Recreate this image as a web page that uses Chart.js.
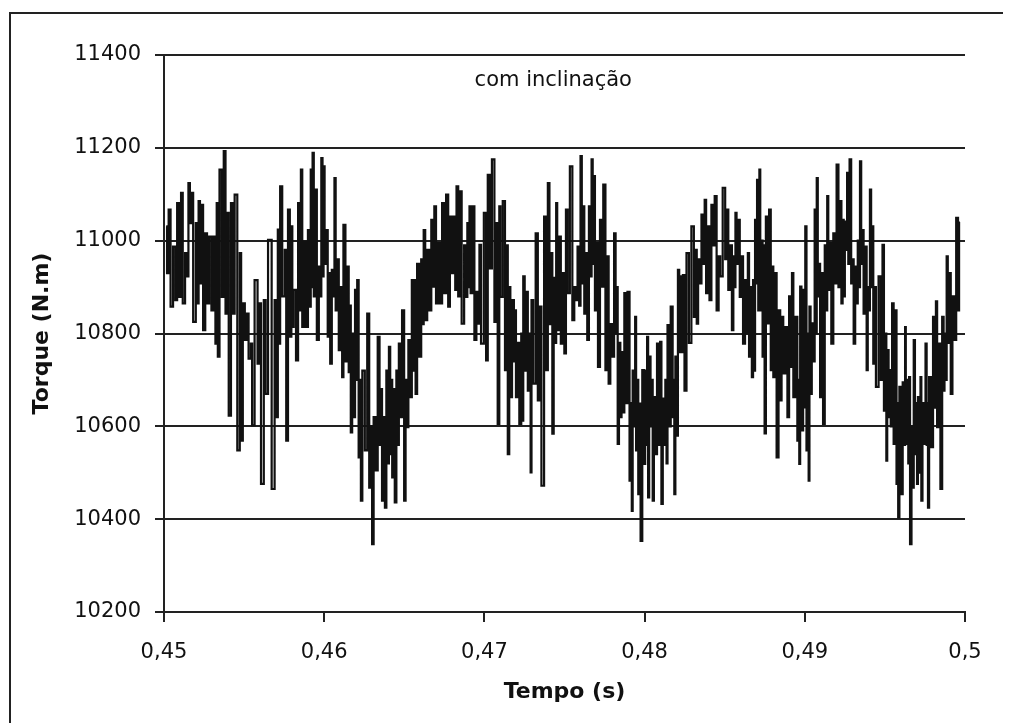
<!DOCTYPE html>
<html>
<head>
<meta charset="utf-8">
<script src="https://cdn.jsdelivr.net/npm/chart.js@4/dist/chart.umd.min.js"></script>
<style>
  html, body { margin: 0; padding: 0; background: #fff; }
  #torqueChart { display: block; }
</style>
</head>
<body>
<canvas id="torqueChart" width="1014" height="723"></canvas>
<script>
// tempo (s) e torque (N.m), picos e vales em ordem
const tempo = [
  0.45014, 0.45024, 0.45034, 0.45048, 0.45065, 0.45076, 0.45088, 0.45102, 0.45111, 0.45123,
  0.45140, 0.45148, 0.45157, 0.45166, 0.45173, 0.45191, 0.45206, 0.45212, 0.45220, 0.45229,
  0.45235, 0.45253, 0.45262, 0.45275, 0.45289, 0.45303, 0.45316, 0.45326, 0.45332, 0.45340,
  0.45353, 0.45368, 0.45378, 0.45390, 0.45399, 0.45409, 0.45427, 0.45436, 0.45446, 0.45469,
  0.45477, 0.45486, 0.45498, 0.45511, 0.45519, 0.45537, 0.45548, 0.45552, 0.45579, 0.45589,
  0.45595, 0.45616, 0.45630, 0.45639, 0.45660, 0.45684, 0.45697, 0.45705, 0.45716, 0.45722,
  0.45728, 0.45748, 0.45759, 0.45767, 0.45781, 0.45790, 0.45800,
  0.45802, 0.45817, 0.45831, 0.45843, 0.45851, 0.45858, 0.45868, 0.45879, 0.45893, 0.45904,
  0.45912, 0.45920, 0.45925, 0.45930, 0.45940, 0.45947, 0.45961, 0.45972, 0.45978, 0.45986,
  0.45993, 0.45999, 0.46006, 0.46014, 0.46030, 0.46035, 0.46040, 0.46055, 0.46061, 0.46067,
  0.46076, 0.46086, 0.46096, 0.46107, 0.46117, 0.46123, 0.46142, 0.46148, 0.46158, 0.46163,
  0.46169, 0.46180, 0.46189, 0.46196, 0.46202, 0.46210, 0.46220, 0.46227, 0.46231, 0.46245,
  0.46262, 0.46275, 0.46287, 0.46295, 0.46303, 0.46314, 0.46328, 0.46340, 0.46351, 0.46357,
  0.46365, 0.46376, 0.46382, 0.46394, 0.46401, 0.46407, 0.46417, 0.46422, 0.46427, 0.46437,
  0.46444, 0.46457, 0.46463, 0.46469, 0.46478, 0.46494, 0.46504, 0.46512, 0.46520, 0.46531,
  0.46542, 0.46552, 0.46562, 0.46568, 0.46573, 0.46587, 0.46599, 0.46612, 0.46618, 0.46624,
  0.46637, 0.46649, 0.46661, 0.46676, 0.46682, 0.46693, 0.46703, 0.46717, 0.46728, 0.46744,
  0.46753, 0.46769, 0.46779, 0.46790, 0.46800, 0.46815, 0.46821, 0.46831, 0.46842, 0.46848,
  0.46868, 0.46879, 0.46889, 0.46898, 0.46904, 0.46910, 0.46918, 0.46930, 0.46945, 0.46955,
  0.46966, 0.46972, 0.46986, 0.47007, 0.47014, 0.47028, 0.47039, 0.47055, 0.47070, 0.47076,
  0.47090, 0.47096, 0.47104, 0.47125, 0.47132, 0.47140, 0.47152, 0.47158, 0.47166, 0.47179,
  0.47189, 0.47194, 0.47200, 0.47211, 0.47225, 0.47235, 0.47240, 0.47245, 0.47258, 0.47266,
  0.47276, 0.47286, 0.47291, 0.47297, 0.47312, 0.47328, 0.47339, 0.47349, 0.47363, 0.47382,
  0.47390, 0.47402, 0.47410, 0.47421, 0.47427, 0.47438, 0.47444, 0.47452, 0.47457, 0.47473,
  0.47481, 0.47494, 0.47504, 0.47514, 0.47525, 0.47542, 0.47556, 0.47566, 0.47576, 0.47587,
  0.47596, 0.47604, 0.47612, 0.47618, 0.47629, 0.47639, 0.47645, 0.47660, 0.47666, 0.47672,
  0.47680, 0.47686, 0.47694, 0.47707, 0.47711, 0.47732, 0.47736, 0.47748, 0.47763, 0.47773,
  0.47778, 0.47794, 0.47804, 0.47815, 0.47823, 0.47829, 0.47835, 0.47845, 0.47852, 0.47860,
  0.47870, 0.47877, 0.47888, 0.47898, 0.47914, 0.47918, 0.47922, 0.47929, 0.47937, 0.47945,
  0.47949, 0.47957, 0.47964, 0.47970, 0.47980, 0.47991, 0.48001, 0.48006, 0.48012, 0.48019,
  0.48025, 0.48032, 0.48042, 0.48048, 0.48053, 0.48063, 0.48071, 0.48084, 0.48093, 0.48101,
  0.48109, 0.48118, 0.48125, 0.48134, 0.48140, 0.48146, 0.48155, 0.48171, 0.48179, 0.48183,
  0.48188, 0.48196, 0.48204, 0.48212, 0.48220, 0.48229, 0.48233, 0.48245, 0.48253, 0.48270,
  0.48283, 0.48301, 0.48314, 0.48322,
  0.48329, 0.48339, 0.48347, 0.48363, 0.48370, 0.48380, 0.48388, 0.48401, 0.48409, 0.48425,
  0.48433, 0.48442, 0.48457, 0.48467, 0.48477, 0.48498, 0.48508, 0.48514, 0.48531, 0.48540,
  0.48550, 0.48558, 0.48564, 0.48570, 0.48578, 0.48587, 0.48601, 0.48607, 0.48622, 0.48632,
  0.48640, 0.48649, 0.48655, 0.48665, 0.48674, 0.48680, 0.48686, 0.48693, 0.48699, 0.48705,
  0.48714, 0.48719, 0.48725, 0.48733, 0.48740, 0.48745, 0.48753, 0.48761, 0.48773, 0.48781,
  0.48794, 0.48798, 0.48809, 0.48819, 0.48829, 0.48843, 0.48850, 0.48860, 0.48871, 0.48885,
  0.48898, 0.48906, 0.48918, 0.48922, 0.48935, 0.48947, 0.48960, 0.48963, 0.48968, 0.48974,
  0.48984, 0.48995, 0.49001, 0.49005, 0.49016, 0.49022, 0.49026, 0.49032, 0.49040, 0.49047,
  0.49056, 0.49067, 0.49071, 0.49078, 0.49084, 0.49093, 0.49098, 0.49109, 0.49119, 0.49130,
  0.49137, 0.49143, 0.49150,
  0.49160, 0.49171, 0.49185, 0.49191, 0.49206, 0.49214, 0.49224, 0.49233, 0.49239, 0.49247,
  0.49253, 0.49260, 0.49268, 0.49275, 0.49284, 0.49295, 0.49301, 0.49309, 0.49320, 0.49326,
  0.49335, 0.49342, 0.49347, 0.49357, 0.49363, 0.49371, 0.49384, 0.49388, 0.49398, 0.49404,
  0.49409, 0.49419, 0.49425, 0.49430, 0.49438, 0.49450, 0.49471, 0.49478, 0.49492, 0.49496,
  0.49506, 0.49512, 0.49517, 0.49529, 0.49533, 0.49540, 0.49550, 0.49559, 0.49570, 0.49575,
  0.49581, 0.49585, 0.49596, 0.49606, 0.49616, 0.49623, 0.49629, 0.49632, 0.49643, 0.49649,
  0.49653, 0.49661, 0.49671, 0.49678, 0.49682, 0.49693, 0.49698, 0.49703, 0.49709, 0.49719,
  0.49725, 0.49730, 0.49739, 0.49750, 0.49757, 0.49764, 0.49767, 0.49771, 0.49781, 0.49795,
  0.49806, 0.49814, 0.49823, 0.49829, 0.49843, 0.49850, 0.49865, 0.49868, 0.49876, 0.49882,
  0.49889, 0.49896, 0.49906, 0.49916, 0.49927, 0.49937, 0.49953, 0.49960, 0.49966
];

const torque = [
  11031, 10930, 11067, 10858, 10987, 10872, 11081, 10879, 11103, 10865,
  10973, 10923, 11124, 11038, 11103, 10825, 11038, 10865, 11085, 10908,
  11077, 10807, 11016, 10865, 11009, 10850, 11009, 10778, 11081, 10750,
  11153, 10879, 11193, 10843, 11060, 10623, 11081, 10843, 11099, 10548,
  10973, 10569, 10865, 10786, 10843, 10746, 10778, 10602, 10915, 10735,
  10865, 10476, 10872, 10670, 11002, 10465, 10872, 10620, 11024, 10778,
  11117, 10880, 10980, 10569, 11067, 10793, 11031,
  10814, 10894, 10742, 11081, 10850, 11153, 10814, 10998, 10814, 11023,
  10858, 11153, 10900, 11189, 10880, 11110, 10786, 10944, 10880, 11178,
  10923, 11160, 10950, 11023, 10793, 10930, 10735, 10937, 10880, 11135,
  10850, 10960, 10764, 10900, 10706, 11034, 10740, 10944, 10717, 10860,
  10587, 10800, 10620, 10894, 10700, 10915, 10533, 10700, 10440, 10720,
  10548, 10843, 10468, 10600, 10346, 10620, 10505, 10793, 10560, 10680,
  10440, 10620, 10425, 10720, 10520, 10771, 10540, 10700, 10490, 10680,
  10436, 10720, 10560, 10778, 10620, 10850, 10440, 10700, 10598, 10786,
  10663, 10915, 10720, 10915, 10670, 10950, 10750, 10960, 10820, 11023,
  10829, 10980, 10850, 11045, 10901, 11074, 10865, 10995, 10865, 11081,
  10887, 11099, 10858, 11052, 10930, 11052, 10894, 11117, 10880, 11106,
  10821, 10990, 10879, 11038, 10900, 11074, 10887, 11074, 10786, 10890,
  10821, 10991, 10778, 11060, 10742, 11142, 10940, 11175, 10825, 11038,
  10605, 11074, 10879, 11085, 10721, 10990, 10540, 10900, 10663, 10872,
  10740, 10850, 10663, 10780, 10605, 10800, 10612, 10923, 10720, 10890,
  10677, 10800, 10501, 10872, 10692, 11016, 10656, 10858, 10472, 11052,
  10721, 11124, 10820, 10973, 10584, 10920, 10780, 11081, 10807, 11009,
  10778, 10930, 10757, 11067, 10887, 11160, 10829, 10900, 10872, 10987,
  10860, 11182, 10908, 11074, 10843, 10973, 10786, 11074, 10923, 11175,
  10950, 11139, 10850, 10995, 10728, 11045, 10901, 11121, 10721, 10966,
  10692, 10820, 10750, 11016, 10800, 10900, 10562, 10780, 10620, 10760,
  10630, 10887, 10650, 10890, 10483, 10650, 10418, 10720, 10600, 10836,
  10548, 10700, 10454, 10649, 10353, 10721, 10519, 10720, 10560, 10793,
  10447, 10750, 10600, 10700, 10440, 10663, 10540, 10778, 10560, 10782,
  10433, 10660, 10560, 10700, 10520, 10818, 10600, 10858, 10620, 10700,
  10454, 10750, 10580, 10937, 10760, 10923, 10760, 10926, 10677, 10973,
  10780, 11031, 10836, 10980,
  10821, 10960, 10908, 11056, 10950, 11088, 10887, 11031, 10872, 11077,
  10990, 11096, 10850, 10966, 10923, 11114, 10960, 11067, 10894, 10990,
  10807, 10966, 10900, 11060, 10950, 11045, 10879, 10966, 10778, 10915,
  10800, 10973, 10750, 10900, 10706, 10915, 10720, 11045, 10908, 11131,
  10850, 11153, 10850, 11000, 10750, 10990, 10585, 11052, 10822, 11067,
  10721, 10944, 10706, 10930, 10533, 10850, 10656, 10836, 10714, 10814,
  10620, 10880, 10728, 10930, 10663, 10836, 10569, 10700, 10519, 10901,
  10591, 10894, 10641, 11031, 10548, 10800, 10483, 10858, 10670, 10822,
  10740, 11067, 10800, 11135, 10880, 10950, 10663, 10930, 10605, 10990,
  10850, 11096, 10894,
  10995, 10778, 11016, 10908, 11164, 10900, 11085, 10865, 11045, 10880,
  11041, 10980, 11146, 10950, 11175, 10908, 10960, 10778, 10944, 10865,
  11000, 10900, 11171, 10950, 11023, 10843, 10987, 10721, 10900, 10850,
  11110, 10900, 11031, 10735, 10900, 10685, 10923, 10700, 10991, 10634,
  10800, 10526, 10764, 10620, 10721, 10600, 10865, 10562, 10850, 10476,
  10650, 10404, 10685, 10454, 10695, 10560, 10814, 10562, 10700, 10520,
  10706, 10346, 10600, 10468, 10786, 10540, 10650, 10476, 10663, 10500,
  10706, 10440, 10650, 10562, 10778, 10560, 10650, 10425, 10706, 10555,
  10836, 10640, 10869, 10598, 10778, 10465, 10836, 10677, 10800, 10700,
  10966, 10780, 10930, 10670, 10880, 10786, 11049, 10850, 11040
];

// eixos
const tempoMin = 0.45, tempoMax = 0.5, tempoPasso = 0.01;
const torqueMin = 10200, torqueMax = 11400, torquePasso = 200;
const tituloGrafico = "com inclinação";

const pontos = tempo.map((t, i) => ({ x: t, y: torque[i] }));

const moldura = {
  id: "moldura",
  beforeDraw(chart) {
    const ctx = chart.ctx;
    ctx.save();
    ctx.fillStyle = "#fff";
    ctx.fillRect(0, 0, chart.width, chart.height);
    ctx.strokeStyle = "#222";
    ctx.lineWidth = 2;
    ctx.beginPath();
    ctx.moveTo(10, 730);
    ctx.lineTo(10, 13);
    ctx.lineTo(1003, 13);
    ctx.stroke();
    ctx.restore();
  }
};

const tituloInterno = {
  id: "tituloInterno",
  afterDraw(chart) {
    const ctx = chart.ctx;
    ctx.save();
    ctx.font = '21px "DejaVu Sans"';
    ctx.fillStyle = "#111";
    ctx.textAlign = "center";
    ctx.textBaseline = "middle";
    ctx.fillText(tituloGrafico, chart.scales.x.getPixelForValue(0.4743), chart.scales.y.getPixelForValue(11346));
    ctx.restore();
  }
};

new Chart(document.getElementById("torqueChart"), {
  type: "line",
  data: {
    datasets: [{
      label: "Torque",
      data: pontos,
      borderColor: "#111",
      borderWidth: 2.2,
      pointRadius: 0,
      stepped: "middle",
      fill: false
    }]
  },
  options: {
    responsive: false,
    maintainAspectRatio: false,
    animation: false,
    layout: { padding: { top: 55, right: 49, bottom: 0, left: 0 } },
    plugins: { legend: { display: false }, tooltip: { enabled: false } },
    scales: {
      x: {
        type: "linear",
        min: tempoMin,
        max: tempoMax,
        afterFit: (scale) => { scale.height = 111; },
        afterBuildTicks: (scale) => {
          const t = [];
          for (let v = tempoMin; v <= tempoMax + 1e-9; v += tempoPasso) t.push({ value: Number(v.toFixed(2)) });
          scale.ticks = t;
        },
        ticks: {
          color: "#111",
          font: { family: "DejaVu Sans", size: 21 },
          padding: 18,
          maxRotation: 0,
          callback: (v) => String(Number(v.toFixed(2))).replace(".", ",")
        },
        grid: { drawOnChartArea: false, drawTicks: true, tickLength: 10, color: "#222", lineWidth: 2 },
        border: { display: true, color: "#222", width: 2 },
        title: {
          display: true,
          text: "Tempo (s)",
          color: "#111",
          font: { family: "DejaVu Sans", size: 22, weight: "bold" },
          padding: { top: 0, bottom: 18 }
        }
      },
      y: {
        min: torqueMin,
        max: torqueMax,
        afterFit: (scale) => { scale.width = 164; },
        ticks: {
          stepSize: torquePasso,
          color: "#111",
          font: { family: "DejaVu Sans", size: 21 },
          padding: 14,
          callback: (v) => String(v)
        },
        grid: { color: "#222", lineWidth: 2, tickLength: 9 },
        border: { display: true, color: "#222", width: 2 },
        title: {
          display: true,
          text: "Torque (N.m)",
          color: "#111",
          font: { family: "DejaVu Sans", size: 22, weight: "bold" },
          padding: { top: 29, bottom: 0 }
        }
      }
    }
  },
  plugins: [moldura, tituloInterno]
});
</script>
</body>
</html>
